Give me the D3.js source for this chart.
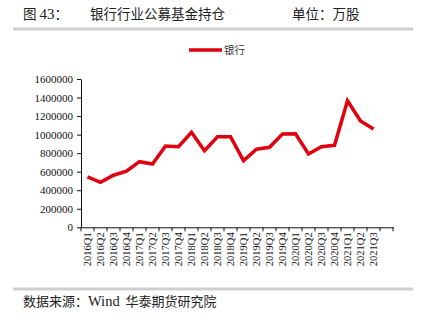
<!DOCTYPE html>
<html>
<head>
<meta charset="utf-8">
<script src="https://cdn.jsdelivr.net/npm/d3@7"></script>
<style>
  html, body { margin: 0; padding: 0; background: #fff; }
  svg { display: block; }
</style>
</head>
<body>
<svg id="chart" width="424" height="323"></svg>
<script>
// Quarterly bank-sector holdings of public funds (unit: 10k shares)
const quarters = [
  "2016Q1","2016Q2","2016Q3","2016Q4",
  "2017Q1","2017Q2","2017Q3","2017Q4",
  "2018Q1","2018Q2","2018Q3","2018Q4",
  "2019Q1","2019Q2","2019Q3","2019Q4",
  "2020Q1","2020Q2","2020Q3","2020Q4",
  "2021Q1","2021Q2","2021Q3"
];
const bankHoldings = [
  545000, 485000, 562000, 605000,
  708000, 683000, 877000, 870000,
  1025000, 826000, 977000, 977000,
  719000, 842000, 863000, 1007000,
  1010000, 791000, 870000, 885000,
  1366000, 1147000, 1061000
];
const yTicks = [0, 200000, 400000, 600000, 800000, 1000000, 1200000, 1400000, 1600000];
const seriesName = "银行";
const titleLeft = ["图 ", "43", "："];
const titleMain = "银行行业公募基金持仓";
const titleUnit = "单位：万股";
const sourceParts = ["数据来源：", "Wind", "  华泰期货研究院"];

const CJK = "'Noto Sans CJK SC', sans-serif";
const SERIF = "'Liberation Serif', 'Times New Roman', serif";

const svg = d3.select("#chart");
const red = "#e0000f";
const ink = "#222";

// Mixed-script text helper: alternate CJK / Latin runs
function mixed(g, parts, xPos, yPos, size) {
  const t = g.append("text").attr("x", xPos).attr("y", yPos)
    .attr("font-size", size).attr("fill", ink).attr("xml:space", "preserve");
  parts.forEach((p, i) => {
    t.append("tspan").attr("font-family", i % 2 === 1 ? SERIF : CJK)
      .attr("font-size", i % 2 === 1 ? size + 1.5 : size)
      .text(p);
  });
  return t;
}

// Header
mixed(svg, titleLeft, 23, 19, 13.5);
svg.append("text").attr("font-family", CJK).attr("x", 90).attr("y", 19)
  .attr("font-size", 13.5).attr("fill", ink).text(titleMain);
svg.append("text").attr("font-family", CJK).attr("x", 292).attr("y", 19)
  .attr("font-size", 13.5).attr("fill", ink).text(titleUnit);
svg.append("rect").attr("x", 13).attr("y", 27.5).attr("width", 400).attr("height", 3)
  .attr("fill", "#cfcfcf");

// Legend
svg.append("line").attr("x1", 189).attr("x2", 222).attr("y1", 50).attr("y2", 50)
  .attr("stroke", red).attr("stroke-width", 3.5);
svg.append("text").attr("font-family", CJK).attr("x", 224).attr("y", 54)
  .attr("font-size", 10.5).attr("fill", "#333").text(seriesName);

// Plot area
const x0 = 81, x1 = 393, yTop = 79, yBot = 227.3;
const slots = quarters.concat([""]); // an empty trailing slot on the axis
const x = d3.scaleBand().domain(slots.map((d, i) => i)).range([x0, x1]);
const y = d3.scaleLinear().domain([0, 1600000]).range([yBot, yTop]);

const yAxis = svg.append("g").attr("transform", `translate(${x0},0)`)
  .call(d3.axisLeft(y).tickValues(yTicks).tickSize(4).tickSizeOuter(0).tickFormat(d3.format("d")));
yAxis.attr("font-family", SERIF);
yAxis.selectAll("text").attr("font-family", SERIF).attr("font-size", 11).attr("fill", "#111").attr("dx", -1);
yAxis.select(".domain").attr("stroke", "#111");
yAxis.selectAll(".tick line").attr("stroke", "#111");

const xAxis = svg.append("g").attr("transform", `translate(0,${yBot})`)
  .call(d3.axisBottom(x).tickSize(0).tickSizeOuter(0).tickFormat(""));
xAxis.select(".domain").attr("stroke", "#111");
xAxis.selectAll(".tick").remove();
// Boundary ticks between quarters
svg.append("g").selectAll("line")
  .data(d3.range(slots.length + 1))
  .join("line")
  .attr("x1", i => x0 + i * x.step()).attr("x2", i => x0 + i * x.step())
  .attr("y1", yBot).attr("y2", yBot + 4)
  .attr("stroke", "#111");

// Rotated quarter labels
svg.append("g").selectAll("text")
  .data(quarters)
  .join("text")
  .attr("font-family", SERIF)
  .attr("font-size", 10.5)
  .attr("fill", "#111")
  .attr("text-anchor", "end")
  .attr("transform", (d, i) => `translate(${x(i) + x.bandwidth() / 2 + 3.5},${yBot + 5}) rotate(-90)`)
  .text(d => d);

// Series line
const line = d3.line()
  .x((d, i) => x(i) + x.bandwidth() / 2)
  .y(d => y(d));
svg.append("path").datum(bankHoldings)
  .attr("d", line)
  .attr("fill", "none")
  .attr("stroke", red)
  .attr("stroke-width", 3.5)
  .attr("stroke-linejoin", "miter");

// Footer
svg.append("rect").attr("x", 13).attr("y", 287.5).attr("width", 400).attr("height", 3)
  .attr("fill", "#cfcfcf");
mixed(svg, sourceParts, 23, 306, 13);
</script>
</body>
</html>
